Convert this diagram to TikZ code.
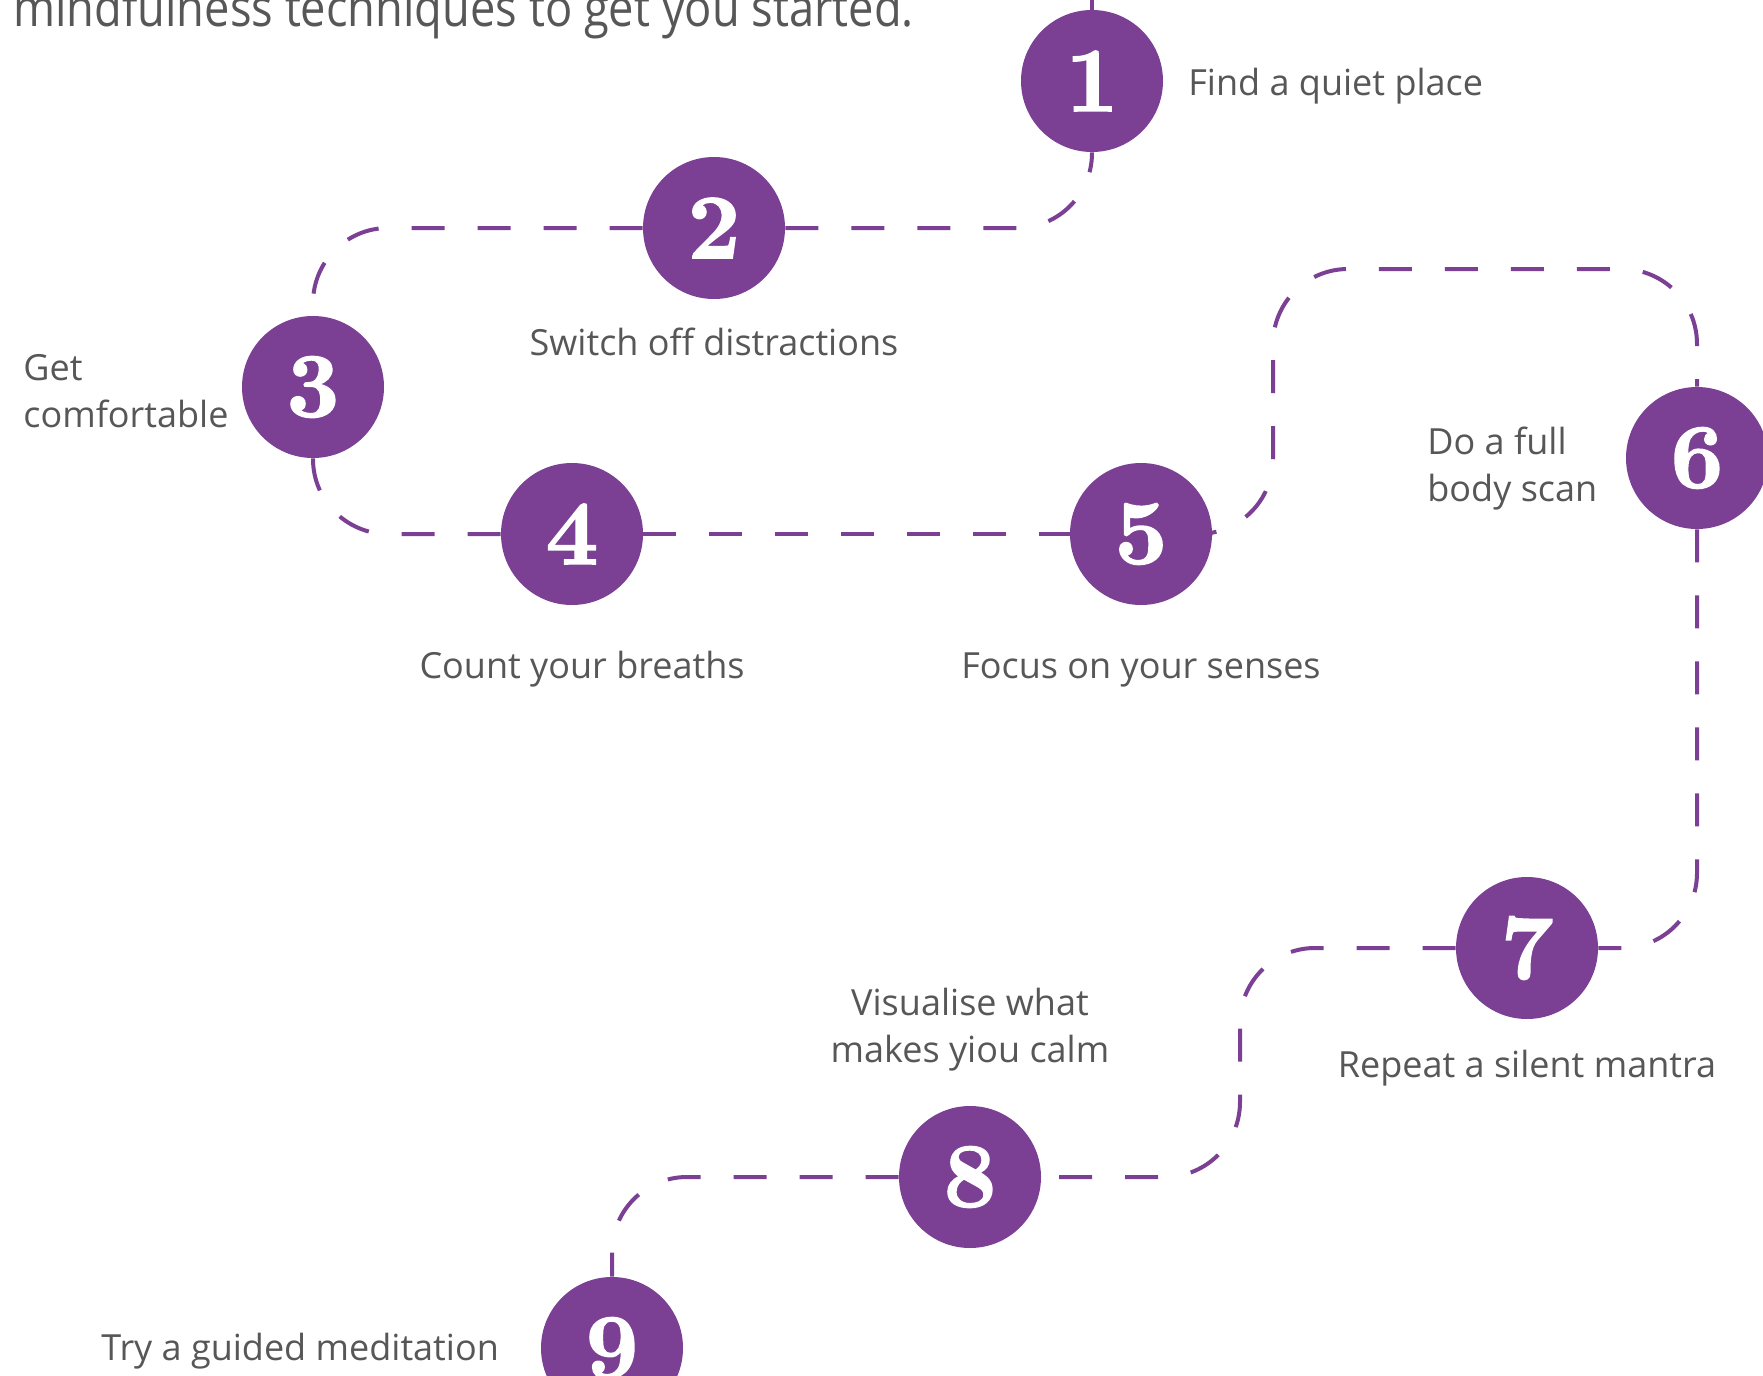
\documentclass[tikz,border=0pt]{standalone}
\usepackage{fontspec}
\newfontfamily\labelfont{Open Sans}
\newfontfamily\numfont{lmroman10-bold}[Extension=.otf, FakeBold=1.6]
\definecolor{plum}{HTML}{7B3F94}
\definecolor{ink}{HTML}{575757}

\begin{document}
\begin{tikzpicture}[x=0.5pt,y=-0.5pt,
  stepdot/.style={circle, fill=plum, minimum size=71pt, inner sep=0pt,
    text=white, font=\numfont\fontsize{46}{46}\selectfont},
  conn/.style={draw=plum, line width=2pt, dash pattern=on 16.5pt off 16.5pt,
    rounded corners=37.5pt},
  lbl/.style={text=ink, font=\labelfont\fontsize{18}{23.5}\selectfont, inner sep=0pt},
  headline/.style={text=ink, font=\labelfont\fontsize{26}{30}\selectfont, inner sep=0pt},
]
\useasboundingbox (0,0) rectangle (1763,1376);
\fill[white] (0,0) rectangle (1763,1376);

% numbered steps
\node[stepdot] (n1) at (1092,81) {1};
\node[stepdot] (n2) at (714,228) {2};
\node[stepdot] (n3) at (313,387) {3};
\node[stepdot] (n4) at (572,534) {4};
\node[stepdot] (n5) at (1141,534) {5};
\node[stepdot] (n6) at (1697,458) {6};
\node[stepdot] (n7) at (1527,948) {7};
\node[stepdot] (n8) at (970,1177) {8};
\node[stepdot] (n9) at (612,1348) {9};

% bends of the winding path
\coordinate (entry) at (1092,0);
\coordinate (k1) at (1273,534);
\coordinate (k2) at (1273,269);
\coordinate (k3) at (1697,269);
\coordinate (k4) at (1240,948);
\coordinate (k5) at (1240,1177);

% dashed path joining the steps
\draw[conn] (entry) -- (n1);
\draw[conn] (n2) -| (n1);
\draw[conn] (n2) -| (n3);
\draw[conn] (n3) |- (n4);
\draw[conn] (n4) -- (n5);
\draw[conn] (n5) -- (k1) -- (k2) -- (k3) -- (n6);
\draw[conn] (n6) |- (n7);
\draw[conn] (n7) -- (k4) -- (k5) -- (n8);
\draw[conn] (n8) -| (n9);

% captions
\node[headline, anchor=base west] (head) at (13,26)
  {\scalebox{0.87}[1]{mindfulness techniques to get you started.}};
\node[lbl, anchor=base west] (t1) at (1188,95) {Find a quiet place};
\node[lbl, anchor=base] (t2) at (714,355) {Switch off distractions};
\node[lbl, anchor=base west, align=left] (t3) at (23,427) {Get\\comfortable};
\node[lbl, anchor=base] (t4) at (582,678) {Count your breaths};
\node[lbl, anchor=base] (t5) at (1141,678) {Focus on your senses};
\node[lbl, anchor=base west, align=left] (t6) at (1427,501) {Do a full\\body scan};
\node[lbl, anchor=base] (t7) at (1527,1077) {Repeat a silent mantra};
\node[lbl, anchor=base, align=center] (t8) at (970,1062) {Visualise what\\makes yiou calm};
\node[lbl, anchor=base west] (t9) at (101,1360) {Try a guided meditation};
\end{tikzpicture}
\end{document}
